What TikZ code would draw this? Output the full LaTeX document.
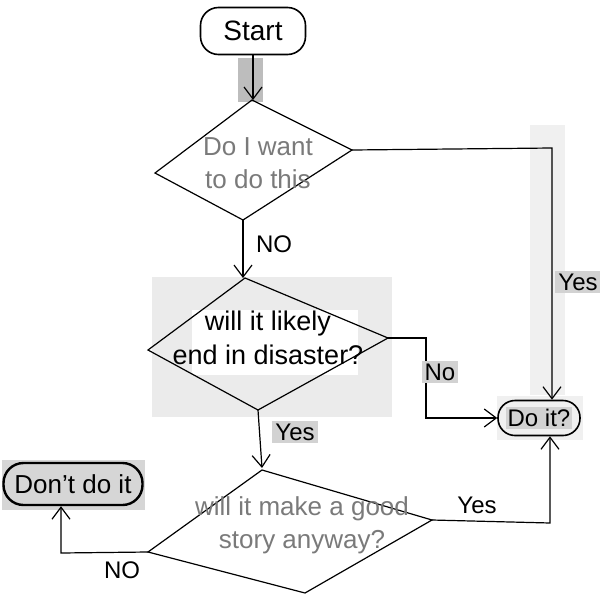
\documentclass[tikz,border=0pt]{standalone}
\usepackage{fontspec}
\setmainfont{Liberation Sans}
\usetikzlibrary{arrows.meta}
\definecolor{band}{HTML}{BDBDBD}
\definecolor{bgA}{HTML}{EBEBEB}
\definecolor{bgB}{HTML}{F0F0F0}
\definecolor{lbl}{HTML}{D2D2D2}
\definecolor{dark}{HTML}{D6D6D6}
\definecolor{pale}{HTML}{7A7A7A}
\tikzset{
  term/.style={draw, rounded corners=9pt, line width=0.8pt, inner sep=2pt, font=\fontsize{14}{16}\selectfont},
  dia/.style={draw, line width=0.6pt},
  arr/.style={draw, line width=0.6pt, -{Straight Barb[length=6pt,width=9pt]}},
  qtext/.style={align=center, font=\fontsize{13}{16.5}\selectfont},
  lab/.style={font=\fontsize{12}{14}\selectfont, inner sep=1.5pt},
  glab/.style={lab, fill=lbl}
}
\begin{document}
\begin{tikzpicture}[x=0.5pt,y=-0.5pt]
\useasboundingbox (0,0) rectangle (600,600);
\fill[white] (0,0) rectangle (600,600);
% background patches
\fill[band] (238,58) rectangle (263,102);
\fill[bgA] (152,277) rectangle (392,417);
\fill[white] (192,310) rectangle (358,375);
\fill[bgB] (530,125) rectangle (565,395);
\fill[bgB] (497,396) rectangle (583,440);
\fill[dark] (2,460) rectangle (145,510);

% terminals
\node[term, fill=white, minimum width=52.5pt, minimum height=23.5pt] (start) at (253,31) {Start};
\node[term, rounded corners=8.5pt, minimum width=41pt, minimum height=17.5pt, inner sep=1.5pt, font=\fontsize{12}{14}\selectfont] (doit) at (539,418)
  {\setlength{\fboxsep}{1pt}\colorbox{lbl}{Do it?}};
\node[term, line width=1.2pt, rounded corners=10pt, minimum width=69.5pt, minimum height=21pt, font=\fontsize{13}{15}\selectfont] (dont) at (73,484) {Don't do it};

% diamond 1
\coordinate (d1t) at (252,100);
\coordinate (d1l) at (155,173);
\coordinate (d1r) at (352,150);
\coordinate (d1b) at (243,220);
\draw[dia] (d1t) -- (d1r) -- (d1b) -- (d1l) -- cycle;
\node[qtext, text=pale] (q1) at (258,163) {Do I want\\to do this};

% diamond 2
\coordinate (d2t) at (245,278);
\coordinate (d2l) at (148,350);
\coordinate (d2r) at (388,338);
\coordinate (d2b) at (258,410);
\draw[dia] (d2t) -- (d2r) -- (d2b) -- (d2l) -- cycle;
\node[qtext, font=\fontsize{13.5}{17}\selectfont] (q2) at (268,338) {will it likely\\end in disaster?};

% diamond 3
\coordinate (d3t) at (262,470);
\coordinate (d3l) at (148,552);
\coordinate (d3r) at (432,520);
\coordinate (d3b) at (305,593);
\draw[dia] (d3t) -- (d3r) -- (d3b) -- (d3l) -- cycle;
\node[qtext, text=pale] (q3) at (302,525) {will it make a good\\story anyway?};

% connectors
\draw[arr] (start.south) -- (start.south |- d1t);
\draw[arr] (d1b) -- (d1b |- d2t);
\draw[arr] (d2b) -- (262,468);
\coordinate (c1) at (552,148);
\draw[arr] (d1r) -- (c1) -- (c1 |- doit.north);
\coordinate (c2) at (426,338);
\draw[arr] (d2r) -- (c2) |- (doit.west);
\coordinate (c4) at (550,523);
\draw[arr] (d3r) -- (c4) -- (c4 |- doit.south);
\coordinate (c5) at (61,553);
\draw[arr] (d3l) -- (c5) -- (c5 |- dont.south);

% labels
\node[lab] (l1) at (274,244) {NO};
\node[glab] (l2) at (578,282) {Yes};
\node[glab] (l3) at (440,372) {No};
\node[glab] (l4) at (295,432) {Yes};
\node[lab] (l5) at (477,505) {Yes};
\node[lab] (l6) at (122,570) {NO};
\end{tikzpicture}
\end{document}
